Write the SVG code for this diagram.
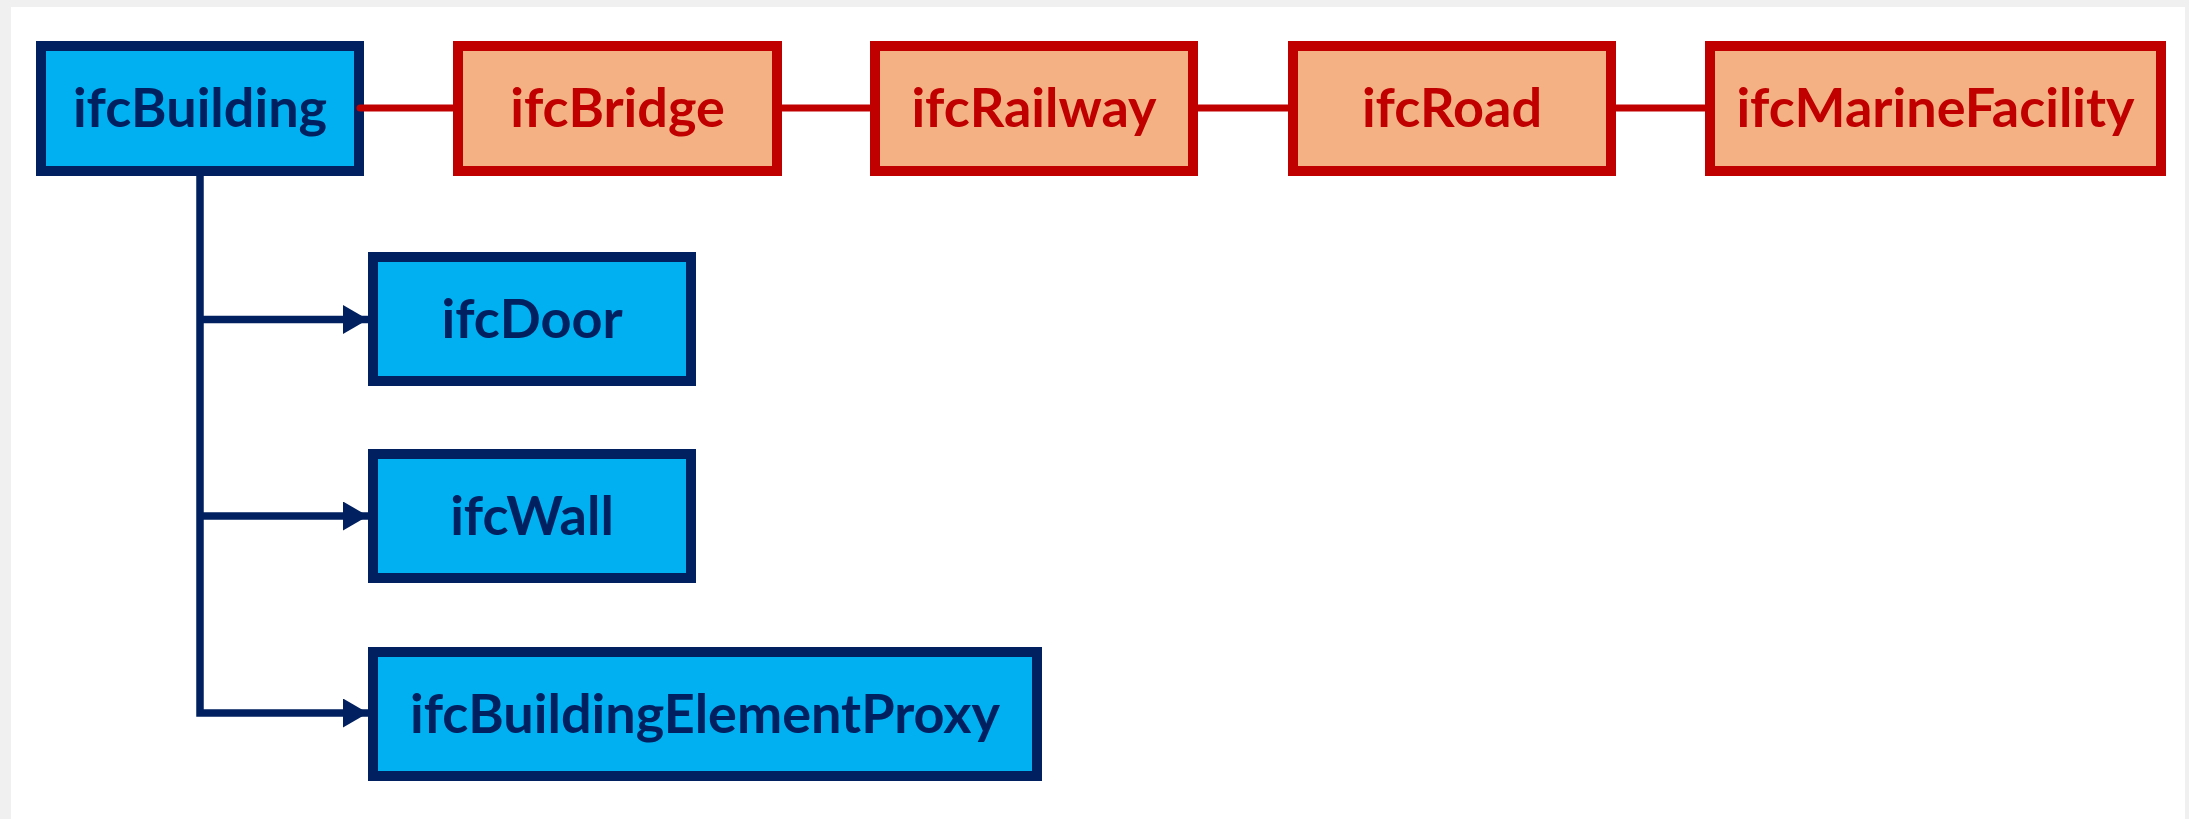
<svg xmlns="http://www.w3.org/2000/svg" width="2189" height="819" viewBox="0 0 2189 819">
  <style>
    .blue rect { fill: #00B0F0; stroke: #002060; stroke-width: 10; }
    .red rect { fill: #F4B183; stroke: #C00000; stroke-width: 10; }
    text { font-family: Lato, "Open Sans", sans-serif; font-weight: 700; font-size: 54px; text-anchor: middle; }
    .blue text { fill: #002060; }
    .red text { fill: #C00000; }
    .link { fill: none; stroke: #C00000; stroke-width: 7; stroke-linecap: round; }
    .tree { fill: none; stroke: #002060; stroke-width: 7.5; stroke-linejoin: miter; }
  </style>
  <defs>
    <marker id="arrow" markerUnits="userSpaceOnUse" markerWidth="25" markerHeight="29" refX="25" refY="14.5" orient="auto">
      <path d="M0,0 L25,14.5 L0,29 Z" fill="#002060"/>
    </marker>
  </defs>

  <!-- page background -->
  <rect x="0" y="0" width="2189" height="819" fill="#f0f0f0"/>
  <rect x="11" y="7" width="2174" height="812" fill="#ffffff"/>

  <!-- top row -->
  <g id="ifcBuilding" class="blue">
    <rect x="41" y="46" width="318" height="125"/>
    <text x="200" y="127">ifcBuilding</text>
  </g>
  <g id="ifcBridge" class="red">
    <rect x="458" y="46" width="319" height="125"/>
    <text x="617.5" y="127">ifcBridge</text>
  </g>
  <g id="ifcRailway" class="red">
    <rect x="875" y="46" width="318" height="125"/>
    <text x="1034" y="127">ifcRailway</text>
  </g>
  <g id="ifcRoad" class="red">
    <rect x="1293" y="46" width="318" height="125"/>
    <text x="1452" y="127">ifcRoad</text>
  </g>
  <g id="ifcMarineFacility" class="red">
    <rect x="1710" y="46" width="451" height="125"/>
    <text x="1935.5" y="127">ifcMarineFacility</text>
  </g>

  <!-- child elements -->
  <g id="ifcDoor" class="blue">
    <rect x="373" y="257" width="318" height="124"/>
    <text x="532" y="337.5">ifcDoor</text>
  </g>
  <g id="ifcWall" class="blue">
    <rect x="373" y="454" width="318" height="124"/>
    <text x="532" y="534.5">ifcWall</text>
  </g>
  <g id="ifcBuildingElementProxy" class="blue">
    <rect x="373" y="652" width="664" height="124"/>
    <text x="705" y="732.5">ifcBuildingElementProxy</text>
  </g>

  <!-- connectors -->
  <g id="connectors">
    <path class="link" d="M360,108 H455"/>
    <path class="link" d="M780,108 H872"/>
    <path class="link" d="M1196,108 H1290"/>
    <path class="link" d="M1614,108 H1707"/>
    <path class="tree" d="M200,176 V713 H368" marker-end="url(#arrow)"/>
    <path class="tree" d="M200,319.5 H368" marker-end="url(#arrow)"/>
    <path class="tree" d="M200,516 H368" marker-end="url(#arrow)"/>
  </g>
</svg>
